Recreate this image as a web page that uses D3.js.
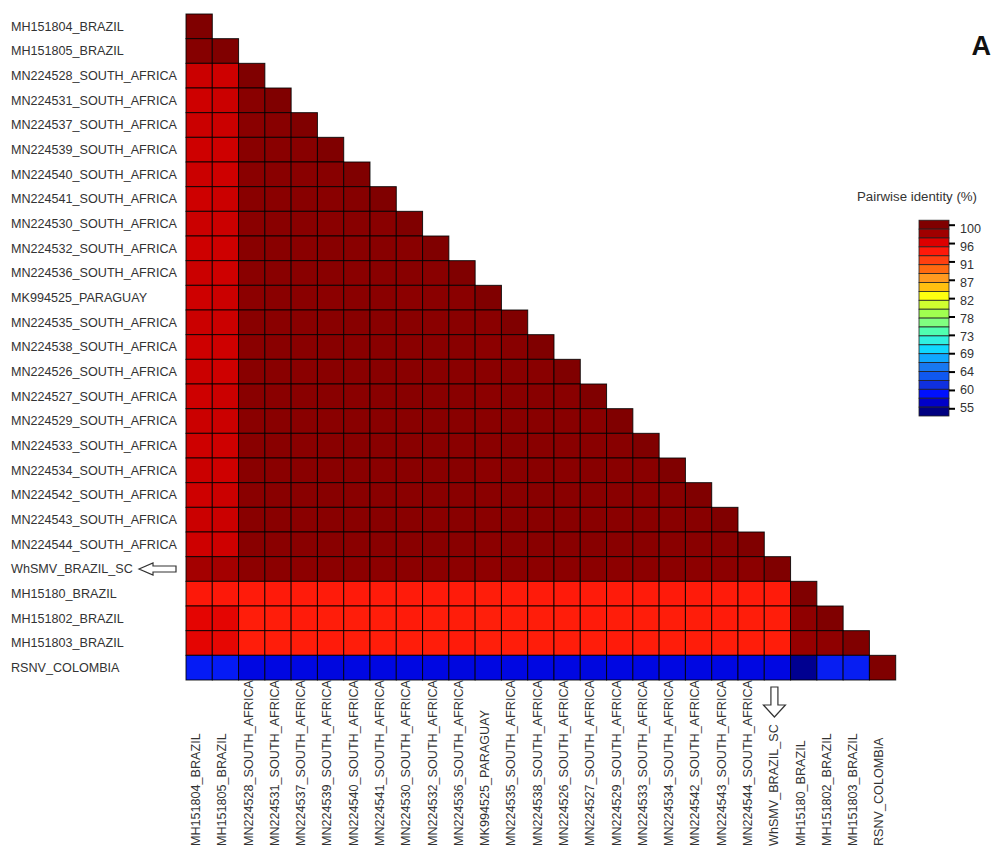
<!DOCTYPE html>
<html><head><meta charset="utf-8">
<script src="https://cdn.jsdelivr.net/npm/d3@7"></script>
<style>
html,body{margin:0;padding:0;background:#fff;}
svg{display:block;font-family:"Liberation Sans",Arial,sans-serif;}
</style></head>
<body>
<svg id="chart" width="994" height="847"></svg>
<script>
const labels = [
  "MH151804_BRAZIL","MH151805_BRAZIL","MN224528_SOUTH_AFRICA","MN224531_SOUTH_AFRICA",
  "MN224537_SOUTH_AFRICA","MN224539_SOUTH_AFRICA","MN224540_SOUTH_AFRICA","MN224541_SOUTH_AFRICA",
  "MN224530_SOUTH_AFRICA","MN224532_SOUTH_AFRICA","MN224536_SOUTH_AFRICA","MK994525_PARAGUAY",
  "MN224535_SOUTH_AFRICA","MN224538_SOUTH_AFRICA","MN224526_SOUTH_AFRICA","MN224527_SOUTH_AFRICA",
  "MN224529_SOUTH_AFRICA","MN224533_SOUTH_AFRICA","MN224534_SOUTH_AFRICA","MN224542_SOUTH_AFRICA",
  "MN224543_SOUTH_AFRICA","MN224544_SOUTH_AFRICA","WhSMV_BRAZIL_SC","MH15180_BRAZIL",
  "MH151802_BRAZIL","MH151803_BRAZIL","RSNV_COLOMBIA"
];
const highlighted = "WhSMV_BRAZIL_SC";

// lower-triangular pairwise identity (%), row i holds columns 0..i
const identity = [
  [100],
  [99.6,100],
  [96.3,96.2,100],
  [96.2,96.3,99.4,100],
  [96.3,96.3,99.3,99.5,100],
  [96.2,96.2,99.4,99.4,99.5,100],
  [96.3,96.2,99.3,99.4,99.4,99.5,100],
  [96.2,96.3,99.4,99.3,99.5,99.4,99.6,100],
  [96.3,96.3,99.3,99.4,99.4,99.3,99.5,99.4,100],
  [96.2,96.2,99.4,99.4,99.3,99.5,99.4,99.5,99.4,100],
  [96.3,96.2,99.3,99.4,99.4,99.4,99.3,99.4,99.5,99.4,100],
  [96.2,96.3,99.2,99.3,99.3,99.2,99.3,99.3,99.2,99.3,99.3,100],
  [96.3,96.3,99.4,99.3,99.4,99.4,99.5,99.4,99.4,99.3,99.4,99.3,100],
  [96.2,96.2,99.3,99.4,99.4,99.5,99.4,99.4,99.3,99.4,99.4,99.2,99.5,100],
  [96.3,96.2,99.4,99.4,99.3,99.4,99.4,99.5,99.4,99.4,99.3,99.3,99.4,99.4,100],
  [96.2,96.3,99.4,99.3,99.4,99.4,99.3,99.4,99.5,99.4,99.4,99.2,99.4,99.5,99.4,100],
  [96.3,96.3,99.3,99.4,99.4,99.3,99.4,99.4,99.4,99.5,99.4,99.3,99.4,99.4,99.5,99.4,100],
  [96.2,96.2,99.4,99.4,99.3,99.4,99.5,99.4,99.4,99.4,99.3,99.3,99.5,99.4,99.4,99.4,99.5,100],
  [96.3,96.2,99.4,99.3,99.4,99.4,99.4,99.3,99.4,99.4,99.5,99.2,99.4,99.4,99.3,99.5,99.4,99.4,100],
  [96.2,96.3,99.3,99.4,99.4,99.5,99.4,99.4,99.3,99.4,99.4,99.3,99.4,99.5,99.4,99.4,99.4,99.3,99.5,100],
  [96.3,96.3,99.4,99.4,99.3,99.4,99.4,99.5,99.4,99.3,99.4,99.3,99.4,99.4,99.5,99.4,99.3,99.4,99.4,99.5,100],
  [96.2,96.2,99.4,99.3,99.4,99.4,99.3,99.4,99.4,99.5,99.4,99.2,99.3,99.4,99.4,99.5,99.4,99.4,99.3,99.4,99.5,100],
  [97.7,97.7,99.1,99.2,99.1,99.2,99.2,99.1,99.2,99.2,99.1,99.0,99.2,99.1,99.2,99.2,99.1,99.2,99.2,99.1,99.2,99.2,100],
  [93.6,93.6,93.4,93.5,93.4,93.4,93.5,93.4,93.4,93.5,93.4,93.3,93.4,93.4,93.5,93.4,93.4,93.4,93.5,93.4,93.4,93.4,93.4,100],
  [95.2,95.2,93.3,93.3,93.4,93.3,93.3,93.3,93.4,93.3,93.3,93.2,93.3,93.3,93.3,93.4,93.3,93.3,93.3,93.3,93.4,93.3,93.3,99.0,100],
  [95.2,95.1,93.3,93.3,93.3,93.4,93.3,93.3,93.3,93.3,93.4,93.2,93.3,93.3,93.3,93.3,93.4,93.3,93.3,93.3,93.3,93.3,93.3,98.5,99.0,100],
  [59.3,59.3,57.4,57.4,57.4,57.3,57.4,57.4,57.4,57.4,57.3,57.4,57.4,57.4,57.4,57.3,57.4,57.4,57.4,57.4,57.4,57.4,57.4,54.7,59.5,59.5,100]
];

const legendTitle = "Pairwise identity (%)";
const legendTickValues = [100, 95.5, 91, 86.5, 82, 77.5, 73, 68.5, 64, 59.5, 55];
const legendTickLabels = ["100","96","91","87","82","78","73","69","64","60","55"];
const legendColors = [
  "#800000","#a00000","#dd0000","#ff1a0a","#ff4010","#ff6a10","#ff9a20","#ffc010",
  "#ffff10","#d0ff30","#a0ff50","#80ff80","#50ffb0","#30f0e0","#10d8ff","#10a8ff",
  "#1878f0","#1058f0","#1030e0","#0010ff","#0000c8","#000080"
];
const panelLetter = "A";

const svg = d3.select("#chart");

// grid scales
const x = d3.scaleBand().domain(labels).range([186, 895.7]).padding(0);
const y = d3.scaleBand().domain(labels).range([14, 680]).padding(0);

// legend scales
const legTop = 220.2, legBottom = 416, legX = 919, legW = 30;
const ly = d3.scaleLinear().domain([100, 55]).range([224.7, 408.3]);       // tick marks
const lyText = d3.scaleLinear().domain([100, 55]).range([229, 407.5]);     // tick labels
const boxH = (legBottom - legTop) / legendColors.length;
const boxCenters = legendColors.map((c, i) => ly.invert(legTop + boxH * (i + 0.5)));
const color = d3.scaleLinear().domain(boxCenters).range(legendColors).clamp(true);

// cells
const cells = [];
identity.forEach((row, i) => row.forEach((v, j) => cells.push({r: labels[i], c: labels[j], v})));

svg.append("g").selectAll("rect").data(cells).join("rect")
  .attr("x", d => x(d.c))
  .attr("y", d => y(d.r))
  .attr("width", x.bandwidth())
  .attr("height", y.bandwidth())
  .attr("fill", d => color(d.v))
  .attr("stroke", "#000")
  .attr("stroke-opacity", 0.85)
  .attr("stroke-width", 1);

// row labels
svg.append("g").selectAll("text").data(labels).join("text")
  .attr("x", 11)
  .attr("y", d => y(d) + y.bandwidth() / 2)
  .attr("dy", "0.35em")
  .attr("font-size", "12.6px")
  .attr("fill", "#333")
  .text(d => d);

// column labels
svg.append("g").selectAll("text").data(labels).join("text")
  .attr("transform", d => `translate(${x(d) + x.bandwidth() / 2 - 3.5},846) rotate(-90)`)
  .attr("dy", "0.35em")
  .attr("text-anchor", "start")
  .attr("font-size", "12.6px")
  .attr("fill", "#333")
  .text(d => d);

// hollow arrows pointing at the highlighted sequence
const ry = y(highlighted) + y.bandwidth() / 2;
svg.append("path")
  .attr("d", `M139,${ry} L153,${ry - 6} L153,${ry - 3} L176,${ry - 3} L176,${ry + 3} L153,${ry + 3} L153,${ry + 6} Z`)
  .attr("fill", "#fff").attr("stroke", "#333").attr("stroke-width", 1.2);
const cx = x(highlighted) + x.bandwidth() / 2 - 3;
svg.append("path")
  .attr("d", `M${cx - 3.5},687 L${cx + 3.5},687 L${cx + 3.5},705 L${cx + 11},705 L${cx},717 L${cx - 11},705 L${cx - 3.5},705 Z`)
  .attr("fill", "#fff").attr("stroke", "#333").attr("stroke-width", 1.2);

// legend
svg.append("text")
  .attr("x", 857).attr("y", 197).attr("dy", "0.35em")
  .attr("font-size", "12px").attr("fill", "#333")
  .attr("textLength", 120).attr("lengthAdjust", "spacingAndGlyphs")
  .text(legendTitle);

svg.append("g").selectAll("rect").data(legendColors).join("rect")
  .attr("x", legX)
  .attr("y", (d, i) => legTop + i * boxH)
  .attr("width", legW)
  .attr("height", boxH)
  .attr("fill", d => d)
  .attr("stroke", "#222")
  .attr("stroke-width", 0.8);

const axis = d3.axisRight(ly)
  .tickValues(legendTickValues)
  .tickFormat("")
  .tickSize(6);
const ag = svg.append("g").attr("transform", `translate(${legX + legW},0)`).call(axis);
ag.select(".domain").remove();
ag.selectAll(".tick line").attr("stroke", "#000").attr("stroke-width", 2);

svg.append("g").selectAll("text").data(legendTickValues).join("text")
  .attr("x", legX + legW + 11)
  .attr("y", d => lyText(d))
  .attr("dy", "0.35em")
  .attr("font-size", "12.6px")
  .attr("fill", "#333")
  .text((d, i) => legendTickLabels[i]);

// panel letter
svg.append("text")
  .attr("x", 991).attr("y", 55)
  .attr("text-anchor", "end")
  .attr("font-size", "27px").attr("font-weight", "bold").attr("fill", "#111")
  .text(panelLetter);
</script>
</body></html>
